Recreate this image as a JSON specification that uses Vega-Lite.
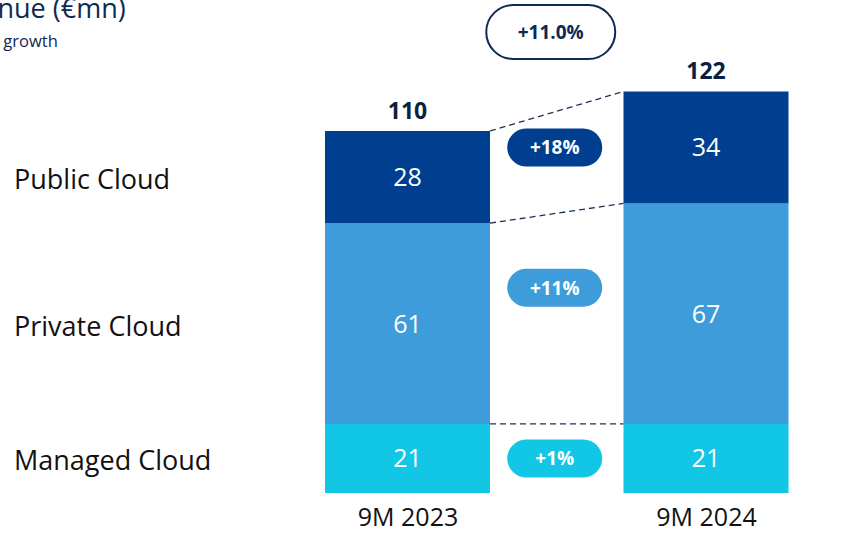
{
  "$schema": "https://vega.github.io/schema/vega-lite/v6.json",
  "width": 588,
  "height": 433,
  "autosize": {"type": "none"},
  "padding": {"left": 258, "top": 60, "right": 0, "bottom": 40},
  "config": {"view": {"stroke": null}, "font": "Open Sans"},
  "title": {
    "text": "Revenue (€mn)",
    "subtitle": "and YoY growth",
    "anchor": "start",
    "frame": "group",
    "dx": -321,
    "dy": 59,
    "fontSize": 27,
    "fontWeight": "normal",
    "color": "#0d2a52",
    "subtitleFontSize": 16.5,
    "subtitleColor": "#0d2a52",
    "subtitlePadding": 10,
    "offset": 8
  },
  "datasets": {
    "main": [
      {"period": "9M 2023", "segment": "Managed Cloud", "value": 21, "order": 1, "growth": "+1%"},
      {"period": "9M 2023", "segment": "Private Cloud", "value": 61, "order": 2, "growth": "+11%"},
      {"period": "9M 2023", "segment": "Public Cloud", "value": 28, "order": 3, "growth": "+18%"},
      {"period": "9M 2024", "segment": "Managed Cloud", "value": 21, "order": 1, "growth": "+1%"},
      {"period": "9M 2024", "segment": "Private Cloud", "value": 67, "order": 2, "growth": "+11%"},
      {"period": "9M 2024", "segment": "Public Cloud", "value": 34, "order": 3, "growth": "+18%"}
    ],
    "totals": [
      {"period": "9M 2023", "total": 110, "growth": ""},
      {"period": "9M 2024", "total": 122, "growth": "+11.0%"}
    ],
    "connectors": [
      {"boundary": "Managed Cloud top", "from": 21, "to": 21},
      {"boundary": "Private Cloud top", "from": 82, "to": 88},
      {"boundary": "Public Cloud top", "from": 110, "to": 122}
    ]
  },
  "encoding": {
    "x": {
      "field": "period",
      "type": "nominal",
      "scale": {"type": "point", "domain": ["9M 2023", "growth", "9M 2024"], "range": [149.5, 448], "padding": 0},
      "axis": {"values": ["9M 2023", "9M 2024"], "domain": false, "ticks": false, "grid": false, "labelFontSize": 25, "labelColor": "#111111", "labelPadding": 12, "labelAngle": 0, "title": null}
    }
  },
  "layer": [
    {
      "mark": {"type": "rule", "color": "#c5d0dc", "strokeWidth": 3, "yOffset": 1.5},
      "encoding": {"x": null, "y": {"datum": 0, "type": "quantitative", "scale": {"domain": [0, 131.57], "nice": false, "zero": true}, "axis": null}}
    },
    {
      "data": {"name": "main"},
      "mark": {"type": "bar", "width": 165},
      "encoding": {
        "y": {"field": "value", "type": "quantitative", "stack": "zero", "axis": null},
        "color": {"field": "segment", "type": "nominal", "scale": {"domain": ["Managed Cloud", "Private Cloud", "Public Cloud"], "range": ["#12c6e6", "#3d9cd9", "#003f8f"]}, "legend": null},
        "order": {"field": "order", "type": "quantitative"}
      }
    },
    {
      "data": {"name": "connectors"},
      "mark": {"type": "rule", "color": "#1d3358", "strokeWidth": 1.3, "strokeDash": [6, 4], "xOffset": 82.5, "x2Offset": -82.5},
      "encoding": {
        "x": {"datum": "9M 2023", "type": "nominal"},
        "x2": {"datum": "9M 2024"},
        "y": {"field": "from", "type": "quantitative"},
        "y2": {"field": "to"}
      }
    },
    {
      "data": {"name": "main"},
      "mark": {"type": "text", "color": "white", "fontSize": 25, "baseline": "middle", "dy": 1},
      "encoding": {
        "y": {"field": "value", "type": "quantitative", "stack": "zero", "bandPosition": 0.5},
        "detail": {"field": "segment"},
        "order": {"field": "order", "type": "quantitative"},
        "text": {"field": "value", "type": "quantitative"}
      }
    },
    {
      "data": {"name": "main"},
      "transform": [{"filter": "datum.period === '9M 2023'"}],
      "mark": {"type": "text", "color": "#111111", "fontSize": 27, "align": "left", "baseline": "middle", "dx": -393.5, "dy": 4},
      "encoding": {
        "y": {"field": "value", "type": "quantitative", "stack": "zero", "bandPosition": 0.5},
        "detail": {"field": "segment"},
        "order": {"field": "order", "type": "quantitative"},
        "text": {"field": "segment"}
      }
    },
    {
      "data": {"name": "totals"},
      "mark": {"type": "text", "color": "#0b1f3f", "fontSize": 23, "fontWeight": "bold", "baseline": "alphabetic", "dy": -12},
      "encoding": {
        "y": {"field": "total", "type": "quantitative"},
        "text": {"field": "total", "type": "quantitative"}
      }
    },
    {
      "data": {"name": "main"},
      "transform": [{"filter": "datum.period === '9M 2024'"}],
      "mark": {"type": "point", "filled": true, "shape": "M-0.6,-0.4L0.6,-0.4A0.4,0.4 0 0 1 0.6,0.4L-0.6,0.4A0.4,0.4 0 0 1 -0.6,-0.4Z", "size": 9025, "xOffset": -2, "strokeWidth": 0},
      "encoding": {
        "x": {"datum": "growth", "type": "nominal"},
        "y": {"field": "value", "type": "quantitative", "stack": "zero", "bandPosition": 0.5},
        "detail": {"field": "segment"},
        "order": {"field": "order", "type": "quantitative"},
        "color": {"field": "segment", "type": "nominal", "legend": null},
        "opacity": {"condition": {"test": "datum.segment === 'Private Cloud'", "value": 0}, "value": 1}
      }
    },
    {
      "data": {"name": "main"},
      "transform": [{"filter": "datum.period === '9M 2024'"}],
      "mark": {"type": "point", "filled": true, "shape": "M-0.6,-0.4L0.6,-0.4A0.4,0.4 0 0 1 0.6,0.4L-0.6,0.4A0.4,0.4 0 0 1 -0.6,-0.4Z", "size": 9025, "xOffset": -2, "yOffset": -26, "strokeWidth": 0},
      "encoding": {
        "x": {"datum": "growth", "type": "nominal"},
        "y": {"field": "value", "type": "quantitative", "stack": "zero", "bandPosition": 0.5},
        "detail": {"field": "segment"},
        "order": {"field": "order", "type": "quantitative"},
        "color": {"field": "segment", "type": "nominal", "legend": null},
        "opacity": {"condition": {"test": "datum.segment === 'Private Cloud'", "value": 1}, "value": 0}
      }
    },
    {
      "data": {"name": "main"},
      "transform": [{"filter": "datum.period === '9M 2024'"}],
      "mark": {"type": "text", "color": "white", "fontSize": 19, "fontWeight": "bold", "baseline": "middle", "xOffset": -2, "dy": 1},
      "encoding": {
        "x": {"datum": "growth", "type": "nominal"},
        "y": {"field": "value", "type": "quantitative", "stack": "zero", "bandPosition": 0.5},
        "detail": {"field": "segment"},
        "order": {"field": "order", "type": "quantitative"},
        "text": {"field": "growth"},
        "opacity": {"condition": {"test": "datum.segment === 'Private Cloud'", "value": 0}, "value": 1}
      }
    },
    {
      "data": {"name": "main"},
      "transform": [{"filter": "datum.period === '9M 2024'"}],
      "mark": {"type": "text", "color": "white", "fontSize": 19, "fontWeight": "bold", "baseline": "middle", "xOffset": -2, "yOffset": -26, "dy": 1},
      "encoding": {
        "x": {"datum": "growth", "type": "nominal"},
        "y": {"field": "value", "type": "quantitative", "stack": "zero", "bandPosition": 0.5},
        "detail": {"field": "segment"},
        "order": {"field": "order", "type": "quantitative"},
        "text": {"field": "growth"},
        "opacity": {"condition": {"test": "datum.segment === 'Private Cloud'", "value": 1}, "value": 0}
      }
    },
    {
      "data": {"name": "totals"},
      "transform": [{"filter": "datum.growth !== ''"}],
      "mark": {"type": "point", "filled": false, "shape": "M-0.581,-0.419L0.581,-0.419A0.419,0.419 0 0 1 0.581,0.419L-0.581,0.419A0.419,0.419 0 0 1 -0.581,-0.419Z", "size": 16641, "xOffset": -6, "yOffset": -59.5, "fill": "white", "fillOpacity": 1, "stroke": "#0d2a52", "strokeWidth": 2, "opacity": 1},
      "encoding": {
        "x": {"datum": "growth", "type": "nominal"},
        "y": {"field": "total", "type": "quantitative"}
      }
    },
    {
      "data": {"name": "totals"},
      "transform": [{"filter": "datum.growth !== ''"}],
      "mark": {"type": "text", "color": "#0d2a52", "fontSize": 19, "fontWeight": "bold", "baseline": "middle", "xOffset": -6, "yOffset": -59.5, "dy": 1},
      "encoding": {
        "x": {"datum": "growth", "type": "nominal"},
        "y": {"field": "total", "type": "quantitative"},
        "text": {"field": "growth"}
      }
    }
  ]
}
